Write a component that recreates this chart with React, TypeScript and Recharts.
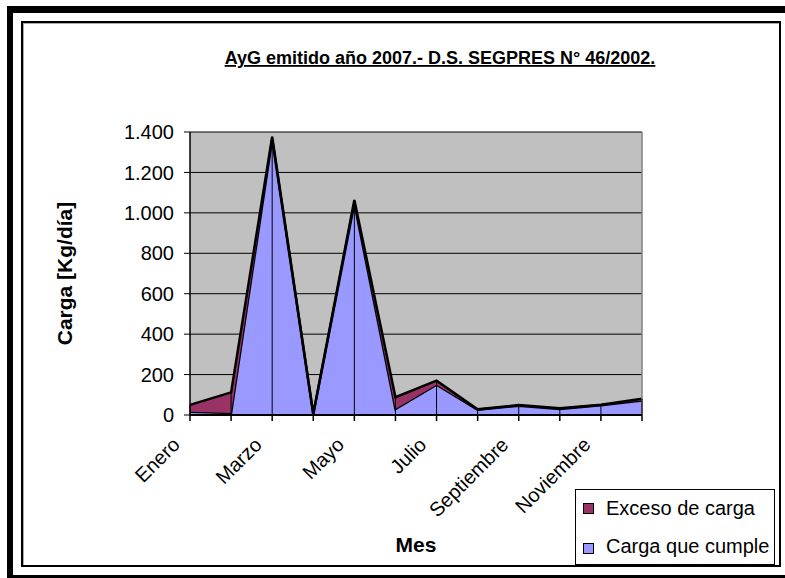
import React from 'react';
import {
  AreaChart,
  Area,
  XAxis,
  YAxis,
  CartesianGrid,
  ReferenceLine,
  Label,
} from 'recharts';

// Monthly loads for 2007 (Kg/día)
const months = [
  'Enero', 'Febrero', 'Marzo', 'Abril', 'Mayo', 'Junio',
  'Julio', 'Agosto', 'Septiembre', 'Octubre', 'Noviembre', 'Diciembre',
];
const cumpleValues = [16, 10, 1365, 4, 1048, 30, 150, 26, 46, 30, 48, 72];
const excesoValues = [34, 102, 12, 2, 16, 58, 20, 2, 3, 3, 3, 8];
const yTicks = [0, 200, 400, 600, 800, 1000, 1200, 1400];

const seriesNames = { exceso: 'Exceso de carga', cumple: 'Carga que cumple' };
const colors = { exceso: '#993366', cumple: '#9999FF' };
const titleText = 'AyG emitido año 2007.- D.S. SEGPRES N° 46/2002.';

const data = months.map((mes, i) => ({
  mes,
  cumple: cumpleValues[i],
  exceso: excesoValues[i],
}));

const FONT = '"Liberation Sans", Arial, Helvetica, sans-serif';

const formatThousands = (v: number) =>
  String(v).replace(/\B(?=(\d{3})+(?!\d))/g, '.');

// Only every other month gets a label; tick marks stay on all of them
const MonthTick = (props: any) => {
  const { x, y, payload } = props;
  const idx = months.indexOf(payload.value);
  if (idx % 2 === 1) return <g />;
  const ax = x - 9;
  const ay = y + 23;
  return (
    <text
      x={ax}
      y={ay}
      transform={`rotate(-45, ${ax}, ${ay})`}
      textAnchor="end"
      fontFamily={FONT}
      fontSize={20}
      fill="#000"
    >
      {payload.value}
    </text>
  );
};

const XTitle = (props: any) => {
  const vb = props.viewBox;
  return (
    <text
      x={vb.x + vb.width / 2}
      y={vb.y + vb.height + 107}
      textAnchor="middle"
      fontFamily={FONT}
      fontSize={21}
      fontWeight="bold"
      fill="#000"
    >
      Mes
    </text>
  );
};

const YTitle = (props: any) => {
  const vb = props.viewBox;
  const cx = vb.x - 58;
  const cy = vb.y + vb.height / 2;
  return (
    <text
      x={cx}
      y={cy}
      transform={`rotate(-90, ${cx}, ${cy})`}
      textAnchor="middle"
      fontFamily={FONT}
      fontSize={21}
      fontWeight="bold"
      fill="#000"
    >
      Carga [Kg/día]
    </text>
  );
};

export default function App() {
  const legendItems = [
    { key: 'exceso', name: seriesNames.exceso, color: colors.exceso },
    { key: 'cumple', name: seriesNames.cumple, color: colors.cumple },
  ];

  return (
    <div
      style={{
        position: 'absolute',
        left: 0,
        top: 0,
        width: 785,
        height: 578,
        background: '#fff',
        overflow: 'hidden',
      }}
    >
      {/* outer heavy frame */}
      <div
        style={{
          position: 'absolute',
          left: 7,
          top: 6,
          width: 778,
          height: 572,
          boxSizing: 'border-box',
          borderTop: '7px solid #000',
          borderLeft: '6px solid #000',
          borderBottom: '3px solid #000',
        }}
      />
      {/* chart area frame */}
      <div
        style={{
          position: 'absolute',
          left: 21,
          top: 21,
          width: 760,
          height: 546,
          boxSizing: 'border-box',
          border: '2px solid #000',
          boxShadow: 'inset 1px 1px 0 #aaa',
        }}
      />

      <div style={{ position: 'absolute', left: 0, top: 0 }}>
        <AreaChart
          width={785}
          height={578}
          data={data}
          margin={{ top: 132, right: 143, bottom: 133, left: 130 }}
        >
          <CartesianGrid
            vertical={false}
            stroke="#000"
            strokeWidth={1}
            fill="#C0C0C0"
            fillOpacity={1}
          />
          <XAxis
            dataKey="mes"
            interval={0}
            height={30}
            tickSize={6}
            tick={<MonthTick />}
            axisLine={{ stroke: '#000', strokeWidth: 2 }}
            tickLine={{ stroke: '#000', strokeWidth: 1.5 }}
          >
            <Label content={<XTitle />} />
          </XAxis>
          <YAxis
            width={60}
            domain={[0, 1400]}
            ticks={yTicks}
            tickFormatter={formatThousands}
            tickSize={6}
            tickMargin={10}
            tick={{ fontFamily: FONT, fontSize: 20, fill: '#000' }}
            axisLine={{ stroke: '#000', strokeWidth: 1.5 }}
            tickLine={{ stroke: '#000', strokeWidth: 1 }}
          >
            <Label content={<YTitle />} />
          </YAxis>
          <Area
            type="linear"
            dataKey="cumple"
            name={seriesNames.cumple}
            stackId="carga"
            fill={colors.cumple}
            fillOpacity={1}
            stroke="#000"
            strokeWidth={2.5}
            dot={false}
            activeDot={false}
            isAnimationActive={false}
          />
          <Area
            type="linear"
            dataKey="exceso"
            name={seriesNames.exceso}
            stackId="carga"
            fill={colors.exceso}
            fillOpacity={1}
            stroke="#000"
            strokeWidth={2.5}
            dot={false}
            activeDot={false}
            isAnimationActive={false}
          />
          <ReferenceLine
            x={months[months.length - 1]}
            stroke="#808080"
            strokeWidth={1.5}
          />
          {data.map((d) => (
            <ReferenceLine
              key={d.mes}
              segment={[
                { x: d.mes, y: 0 },
                { x: d.mes, y: d.cumple + d.exceso },
              ]}
              stroke="#000"
              strokeWidth={1}
            />
          ))}
        </AreaChart>
      </div>

      <svg
        width={785}
        height={578}
        style={{ position: 'absolute', left: 0, top: 0, pointerEvents: 'none' }}
      >
        <text
          x={440}
          y={64}
          textAnchor="middle"
          fontFamily={FONT}
          fontSize={18}
          fontWeight="bold"
          textDecoration="underline"
          fill="#000"
        >
          {titleText}
        </text>

        <g>
          <rect
            x={575.5}
            y={489.5}
            width={199}
            height={75}
            fill="#fff"
            stroke="#000"
            strokeWidth={1}
          />
          {legendItems.map((it, i) => (
            <g key={it.key}>
              <rect
                x={583.5}
                y={503.5 + i * 40}
                width={10}
                height={10}
                fill={it.color}
                stroke="#000"
                strokeWidth={1}
              />
              <text
                x={606}
                y={515 + i * 38}
                fontFamily={FONT}
                fontSize={20}
                fill="#000"
              >
                {it.name}
              </text>
            </g>
          ))}
        </g>
      </svg>
    </div>
  );
}
